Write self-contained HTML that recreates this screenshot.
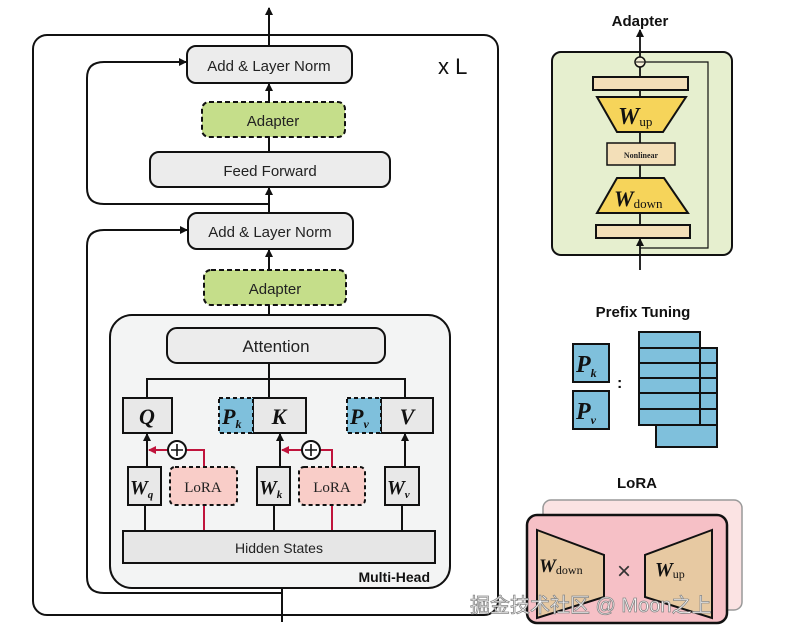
<!DOCTYPE html>
<html><head><meta charset="utf-8"><style>
body{margin:0;background:#fff;width:791px;height:638px;overflow:hidden}
svg text{font-family:"Liberation Sans",sans-serif}
.m{font-family:"Liberation Serif",serif;font-style:italic;font-weight:bold}
</style></head><body>
<svg width="791" height="638" viewBox="0 0 791 638" xmlns="http://www.w3.org/2000/svg">
<defs>
<marker id="a" markerWidth="8" markerHeight="8" refX="7" refY="4" orient="auto" markerUnits="userSpaceOnUse"><path d="M0,0 L8,4 L0,8z" fill="#111"/></marker>
<marker id="r" markerWidth="8" markerHeight="8" refX="7" refY="4" orient="auto" markerUnits="userSpaceOnUse"><path d="M0,0 L8,4 L0,8z" fill="#c0143c"/></marker>
</defs>
<g stroke="#111" stroke-width="2" fill="none">
<rect x="33" y="35" width="465" height="580" rx="14"/>
<line x1="269" y1="46" x2="269" y2="8" marker-end="url(#a)"/>
<line x1="269" y1="102" x2="269" y2="84" marker-end="url(#a)"/>
<line x1="269" y1="152" x2="269" y2="137"/>
<line x1="269" y1="213" x2="269" y2="188" marker-end="url(#a)"/>
<path d="M269,204 H104 Q87,204 87,188 V78 Q87,62 104,62 H186" marker-end="url(#a)"/>
<line x1="269" y1="270" x2="269" y2="250" marker-end="url(#a)"/>
<line x1="269" y1="315" x2="269" y2="305"/>
<path d="M282,593 H104 Q87,593 87,577 V246 Q87,230 104,230 H187" marker-end="url(#a)"/>
<line x1="282" y1="622" x2="282" y2="564" marker-end="url(#a)"/>
</g>
<rect x="187" y="46" width="165" height="37" rx="9" fill="#ececec" stroke="#111" stroke-width="2"/>
<text x="269" y="71" font-size="15" text-anchor="middle" fill="#222">Add &amp; Layer Norm</text>
<rect x="202" y="102" width="143" height="35" rx="7" fill="#c5de8a" stroke="#111" stroke-width="2" stroke-dasharray="5,3"/>
<text x="273" y="126" font-size="15" text-anchor="middle" fill="#222">Adapter</text>
<rect x="150" y="152" width="240" height="35" rx="9" fill="#ececec" stroke="#111" stroke-width="2"/>
<text x="270" y="176" font-size="15" text-anchor="middle" fill="#222">Feed Forward</text>
<rect x="188" y="213" width="165" height="36" rx="9" fill="#ececec" stroke="#111" stroke-width="2"/>
<text x="270" y="237" font-size="15" text-anchor="middle" fill="#222">Add &amp; Layer Norm</text>
<rect x="204" y="270" width="142" height="35" rx="7" fill="#c5de8a" stroke="#111" stroke-width="2" stroke-dasharray="5,3"/>
<text x="275" y="294" font-size="15" text-anchor="middle" fill="#222">Adapter</text>
<text x="438" y="74" font-size="22" fill="#111">x L</text>
<!-- multi-head -->
<rect x="110" y="315" width="340" height="273" rx="22" fill="#f3f4f4" stroke="#111" stroke-width="2"/>
<rect x="167" y="328" width="218" height="35" rx="10" fill="#ececec" stroke="#111" stroke-width="2"/>
<text x="276" y="352" font-size="17" text-anchor="middle" fill="#222">Attention</text>
<g stroke="#111" stroke-width="2" fill="none">
<line x1="269" y1="363" x2="269" y2="398"/>
<path d="M147,398 V379 H405 V398"/>
<line x1="147" y1="467" x2="147" y2="434" marker-end="url(#a)"/>
<line x1="280" y1="467" x2="280" y2="434" marker-end="url(#a)"/>
<line x1="405" y1="467" x2="405" y2="434" marker-end="url(#a)"/>
<line x1="145" y1="505" x2="145" y2="531"/><line x1="274" y1="505" x2="274" y2="531"/><line x1="402" y1="505" x2="402" y2="531"/>
</g>
<g stroke="#c0143c" stroke-width="2" fill="none">
<path d="M204,467 V450 H186"/><line x1="168" y1="450" x2="149" y2="450" marker-end="url(#r)"/>
<path d="M332,467 V450 H320"/><line x1="302" y1="450" x2="282" y2="450" marker-end="url(#r)"/>
<line x1="204" y1="505" x2="204" y2="531"/><line x1="332" y1="505" x2="332" y2="531"/>
</g>
<g stroke="#111" stroke-width="2" fill="#fff"><circle cx="177" cy="450" r="9"/><circle cx="311" cy="450" r="9"/></g>
<g stroke="#111" stroke-width="1.6"><path d="M177,444v12M171,450h12M311,444v12M305,450h12"/></g>
<g stroke="#111" stroke-width="2">
<rect x="123" y="398" width="49" height="35" fill="#e8e8e8"/>
<rect x="253" y="398" width="53" height="35" fill="#e8e8e8"/>
<rect x="381" y="398" width="52" height="35" fill="#e8e8e8"/>
<rect x="219" y="398" width="34" height="35" fill="#7fc0dc" stroke-dasharray="4,3"/>
<rect x="347" y="398" width="34" height="35" fill="#7fc0dc" stroke-dasharray="4,3"/>
<rect x="128" y="467" width="33" height="38" fill="#e8e8e8"/>
<rect x="257" y="467" width="33" height="38" fill="#e8e8e8"/>
<rect x="385" y="467" width="34" height="38" fill="#e8e8e8"/>
<rect x="170" y="467" width="67" height="38" rx="5" fill="#f9cdc8" stroke-dasharray="4,3"/>
<rect x="299" y="467" width="66" height="38" rx="5" fill="#f9cdc8" stroke-dasharray="4,3"/>
<rect x="123" y="531" width="312" height="32" fill="#e6e6e6"/>
</g>
<g class="m" fill="#111">
<text x="147" y="424" font-size="22" text-anchor="middle" class="m">Q</text>
<text x="279" y="424" font-size="22" text-anchor="middle" class="m">K</text>
<text x="407" y="424" font-size="22" text-anchor="middle" class="m">V</text>
<text x="222" y="424" font-size="22" class="m">P<tspan font-size="12" dy="4">k</tspan></text>
<text x="350" y="424" font-size="22" class="m">P<tspan font-size="12" dy="4">v</tspan></text>
<text x="130" y="494" font-size="20" class="m">W<tspan font-size="11" dy="4">q</tspan></text>
<text x="259" y="494" font-size="20" class="m">W<tspan font-size="11" dy="4">k</tspan></text>
<text x="387" y="494" font-size="20" class="m">W<tspan font-size="11" dy="4">v</tspan></text>
</g>
<text x="203" y="492" font-size="15" text-anchor="middle" fill="#222" style="font-family:'Liberation Serif',serif">LoRA</text>
<text x="332" y="492" font-size="15" text-anchor="middle" fill="#222" style="font-family:'Liberation Serif',serif">LoRA</text>
<text x="279" y="553" font-size="14" text-anchor="middle" fill="#222">Hidden States</text>
<text x="430" y="582" font-size="14" font-weight="bold" text-anchor="end" fill="#111">Multi-Head</text>
<!-- Adapter detail -->
<text x="640" y="26" font-size="15" font-weight="bold" text-anchor="middle" fill="#111">Adapter</text>
<rect x="552" y="52" width="180" height="203" rx="9" fill="#e6efcf" stroke="#111" stroke-width="2"/>
<g stroke="#111" stroke-width="1.8" fill="none">
<line x1="640" y1="270" x2="640" y2="239" marker-end="url(#a)"/>
<line x1="640" y1="57" x2="640" y2="30" marker-end="url(#a)"/>
<line x1="640" y1="67" x2="640" y2="77"/><line x1="640" y1="90" x2="640" y2="97"/>
<line x1="640" y1="132" x2="640" y2="143"/><line x1="640" y1="165" x2="640" y2="178"/><line x1="640" y1="213" x2="640" y2="225"/>
<path d="M640,248 H708 V62 H645" stroke-width="1.2"/>
</g>
<circle cx="640" cy="62" r="5" fill="#f5f0d8" stroke="#111" stroke-width="1.5"/>
<line x1="636" y1="62" x2="644" y2="62" stroke="#111" stroke-width="1"/>
<g stroke="#111" stroke-width="2">
<rect x="593" y="77" width="95" height="13" fill="#f3dfb8"/>
<path d="M597,97 H686 L663,132 H617Z" fill="#f6d45a"/>
<rect x="607" y="143" width="68" height="22" fill="#f3dfb8" stroke-width="1.5"/>
<path d="M617,178 H664 L688,213 H597Z" fill="#f6d45a"/>
<rect x="596" y="225" width="94" height="13" fill="#f3dfb8"/>
</g>
<text x="618" y="124" font-size="24" class="m" fill="#111" style="font-weight:bold">W<tspan font-size="13" font-style="normal" font-weight="normal" dy="2">up</tspan></text>
<text x="641" y="158" font-size="8" font-weight="bold" text-anchor="middle" fill="#222" style="font-family:'Liberation Serif',serif">Nonlinear</text>
<text x="614" y="206" font-size="22" class="m" fill="#111">W<tspan font-size="13" font-style="normal" font-weight="normal" dy="2">down</tspan></text>
<!-- Prefix -->
<text x="643" y="317" font-size="15" font-weight="bold" text-anchor="middle" fill="#111">Prefix Tuning</text>
<g stroke="#111" stroke-width="2" fill="#7fc0dc">
<rect x="573" y="344" width="36" height="38"/><rect x="573" y="391" width="36" height="38"/>
<rect x="656" y="348" width="61" height="99"/>
<rect x="639" y="332" width="61" height="93"/>
</g>
<g stroke="#111" stroke-width="2">
<path d="M639,348H717M639,363H717M639,378H717M639,393H717M639,409H717M700,425H717"/>
</g>
<text x="576" y="372" font-size="24" class="m" fill="#111">P<tspan font-size="12" dy="5">k</tspan></text>
<text x="576" y="419" font-size="24" class="m" fill="#111">P<tspan font-size="12" dy="5">v</tspan></text>
<text x="617" y="388" font-size="16" font-weight="bold" fill="#111">:</text>
<!-- LoRA -->
<text x="637" y="488" font-size="15" font-weight="bold" text-anchor="middle" fill="#111">LoRA</text>
<rect x="543" y="500" width="199" height="110" rx="8" fill="#fbe3e3" stroke="#999" stroke-width="1.5"/>
<rect x="527" y="515" width="200" height="108" rx="10" fill="#f6c0c6" stroke="#111" stroke-width="2.5"/>
<g stroke="#111" stroke-width="2" fill="#e7c9a2">
<path d="M537,530 L604,555 V597 L537,618Z"/>
<path d="M712,530 L645,555 V597 L712,618Z"/>
</g>
<text x="539" y="572" font-size="19" class="m" fill="#111">W<tspan font-size="12" font-style="normal" font-weight="normal" dy="2">down</tspan></text>
<text x="655" y="576" font-size="20" class="m" fill="#111">W<tspan font-size="12" font-style="normal" font-weight="normal" dy="2">up</tspan></text>
<text x="624" y="579" font-size="24" text-anchor="middle" fill="#333">×</text>
<text x="470" y="612" font-size="20" fill="#fff" stroke="#888" stroke-width="0.8" style="font-family:'Liberation Sans','Noto Sans CJK SC',sans-serif">掘金技术社区 @ Moon之上</text>
</svg>
</body></html>
